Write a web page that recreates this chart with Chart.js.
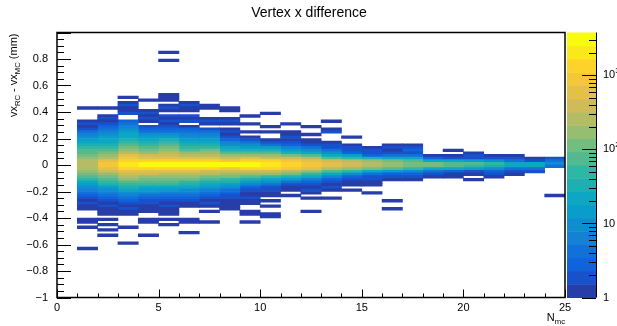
<!DOCTYPE html>
<html>
<head>
<meta charset="utf-8">
<script src="https://cdn.jsdelivr.net/npm/chart.js@4.4.1/dist/chart.umd.min.js"></script>
<style>
  html, body { margin: 0; padding: 0; background: #fff; }
</style>
</head>
<body>
<canvas id="hist" width="617" height="326"></canvas>
<script>
// N_mc bins (low edges, width 1) and y bins of 0.02 mm
const nMc = [1, 2, 3, 4, 5, 6, 7, 8, 9, 10, 11, 12, 13, 14, 15, 16, 17, 18, 19, 20, 21, 22, 23, 24];
const binW = 0.02;
const zMax = 3800;
const xTickValues = [0, 5, 10, 15, 20, 25];
const zDecades = [1, 10, 100, 1000];

// top edge (mm) of the first listed y bin of each column; counts go downwards from there
const colTop = [0.44, 0.44, 0.52, 0.50, 0.86, 0.48, 0.46, 0.44, 0.38, 0.40, 0.32, 0.30,
                0.34, 0.22, 0.14, 0.16, 0.16, 0.08, 0.12, 0.10, 0.08, 0.08, 0.06, 0.06];

const c1 = [1,0,0,0,0, 1,2,1,2,4, 7,10,14,20,30, 45,62,85,115,165, 230,300,310,240,170,
            110,70,42,26,16, 10,6,4,3,2, 1,2,1,1,0, 0,0,1,1,0, 1,0,0,0,0, 0,0,0,1];
const c2 = [1,0,0,1,2, 1,2,3,4,6, 9,13,18,26,38, 55,80,120,190,300, 520,850,900,560,330,
            200,120,75,45,28, 16,10,6,4,3, 2,1,2,1,1, 1,0,1,0,1, 0,1,0,1];
const c3 = [1,0,1,2,1, 1,2,0,0,3, 4,6,9,13,18, 25,40,60,90,130, 200,300,500,800,1300,
            2100,2000,1250,700,400, 230,140,85,50,30, 18,11,7,4,3, 2,1,2,1,1, 0,0,0,0,1,
            0,0,0,0,0, 1];
const c4 = [1,0,0,0,1, 2,1,2,1,0, 2,3,5,9,14, 20,30,45,70,110, 180,330,600,1300,3100,
            3200,1400,650,340,190, 115,70,42,25,15, 9,5,3,2,2, 1,1,1,0,0, 1,1,0,0,0, 0,1];
const c5 = [1,0,0,1, 0,0,0,0,0,0,0,0,0,0,0,0, 1,1,1,0,1, 2,1,0,2,1, 2,1,2,3,4,
            8,16,28,45,70, 110,170,260,420,650, 1400,3600,3700,1500,700, 280,180,120,80,50,
            25,15,7,4,3, 2,1,2,1,1, 1,0,1,0,1];
const c6 = [1,2,1,1,0, 2,1,2,0,1, 3,4,6,10,15, 24,36,55,90,150, 280,550,1200,3400,3500,
            1300,600,300,160,95, 55,32,18,10,6, 4,3,2,1,1, 0,0,0,0,1, 1,0,0,0,1];
const c7 = [1,1,0,0,0, 1,2,1,0,2, 4,6,10,16,25, 38,60,95,160,280, 520,1150,3300,3300,1100,
            480,230,120,65,38, 22,13,7,4,3, 2,1,2,1,0, 1,0,0,0,1];
const c8 = [1,1,0,0,1, 2,1,0,1,2, 1,2,3,6,10, 20,38,75,160,380, 1000,3000,3000,1000,420,
            190,95,50,28,16, 9,5,3,2,2, 1,1,1,1];
const c9 = [1,0,0,1,0, 0,1,0,1,2, 4,8,16,35,80, 200,500,1500,2800,2800, 1400,450,190,75,32,
            14,6,3,2,1, 1,2,1,1,0, 0,1,1,0,0, 1];
const c10 = [1,0,0,0,0, 1,0,1,0,0, 1,2,4,12,30, 70,170,450,1300,2200, 2200,1200,420,160,60,
             25,10,4,2,2, 1,1,0,1,0, 1,0,0,1,1];
const c11 = [1,0,0,1,1, 2,1,2,3,6, 15,40,110,320,900, 1600,1500,850,300,100, 35,12,4,2,1, 1,0,1];
const c12 = [1,0,0,1,0, 1,1,2,4,9, 25,70,220,600,1000, 950,500,180,60,20, 7,3,2,1,2,
             1,0,1,0,0, 0,0,1];
const c13 = [1,0,0,1,2, 0,0,0,1,2, 2,4,8,25,90, 330,620,600,300,90, 22,7,3,2,1, 2,1,0,0,1];
const c14 = [1,0,0,1,2, 2,3,12,60,250, 420,400,200,50,10, 3,2,1,1,0, 1];
const c15 = [1,2,2,3,30, 170,270,260,120,25, 4,2,2,1,1, 0,0,1];
const c16 = [1,2,1,2,4, 20,110,180,170,70, 14,3,2,1,0, 0,0,0,0,0, 0,1,0,0,1];
const c17 = [1,2,3,2,5, 18,80,130,120,50, 10,3,2,1];
const c18 = [1,3,25,100,95,25,4,2,1];
const c19 = [1,0,1,2,20,80,75,18,3,1,1];
const c20 = [1,2,2,15,65,60,12,2,1,0,1];
const c21 = [1,2,10,45,40,10,3,2,1];
const c22 = [1,2,4,25,22,5,2,1];
const c23 = [1,2,20,18,4,2];
const c24 = [2,4,9,5,0, 0,0,0,0,0, 0,0,0,0,1];

const columns = [c1, c2, c3, c4, c5, c6, c7, c8, c9, c10, c11, c12,
                 c13, c14, c15, c16, c17, c18, c19, c20, c21, c22, c23, c24];

// ROOT kBird palette, 20 contour levels on a log z axis
const birdStops = [0, 0.125, 0.25, 0.375, 0.5, 0.625, 0.75, 0.875, 1];
const birdR = [0.2082, 0.0592, 0.0780, 0.0232, 0.1802, 0.5301, 0.8186, 0.9956, 0.9764];
const birdG = [0.1664, 0.3599, 0.5041, 0.6419, 0.7178, 0.7492, 0.7328, 0.7862, 0.9832];
const birdB = [0.5293, 0.8684, 0.8385, 0.7914, 0.6425, 0.4662, 0.3499, 0.1968, 0.0539];
const NLEV = 20;

function levelColor(lvl) {
    const f = Math.floor((lvl + 0.99) * 255 / NLEV) / 254;
    let s = 1;
    while (s < birdStops.length - 1 && f > birdStops[s]) s++;
    const t = (f - birdStops[s - 1]) / (birdStops[s] - birdStops[s - 1]);
    const m = a => Math.round(255 * (a[s - 1] + t * (a[s] - a[s - 1])));
    return `rgb(${m(birdR)},${m(birdG)},${m(birdB)})`;
}

function colorFor(c) {
    const lvl = Math.floor(0.01 + NLEV * Math.log10(c) / Math.log10(zMax));
    return levelColor(Math.max(0, Math.min(NLEV - 1, lvl)));
}

const datasets = columns.map((counts, k) => {
    const pts = [];
    counts.forEach((c, i) => {
        if (!c) return;
        const hi = +(colTop[k] - i * binW).toFixed(4);
        pts.push({ x: nMc[k] + 0.5, y: [+(hi - binW).toFixed(4), hi], c: c });
    });
    return {
        data: pts,
        backgroundColor: pts.map(p => colorFor(p.c)),
        borderWidth: 0,
        grouped: false,
        categoryPercentage: 1,
        barPercentage: 1
    };
});

const FONT = "'Liberation Sans', Arial, Helvetica, sans-serif";

// draws a run of text pieces; sub/sup pieces are smaller and shifted
function drawPieces(ctx, pieces, x, y, size) {
    let cx = x;
    for (const p of pieces) {
        const fs = p.sub || p.sup ? size * 0.7 : size;
        ctx.font = fs + "px " + FONT;
        const dy = p.sub ? size * 0.3 : p.sup ? -size * 0.45 : 0;
        ctx.fillText(p.t, cx, y + dy);
        cx += ctx.measureText(p.t).width;
    }
    return cx - x;
}
function piecesWidth(ctx, pieces, size) {
    let w = 0;
    for (const p of pieces) {
        ctx.font = (p.sub || p.sup ? size * 0.7 : size) + "px " + FONT;
        w += ctx.measureText(p.t).width;
    }
    return w;
}

const rootDecor = {
    id: "rootDecor",
    afterDatasetsDraw(chart) {
        const { ctx, chartArea: a, scales } = chart;
        const xs = scales.x, ys = scales.y, zs = scales.z;
        ctx.save();
        ctx.strokeStyle = "#000";
        ctx.fillStyle = "#000";

        // frame
        ctx.lineWidth = 1.5;
        ctx.strokeRect(a.left, a.top, a.right - a.left, a.bottom - a.top);

        // y ticks, inside, every 0.05
        ctx.lineWidth = 1;
        ctx.beginPath();
        for (let k = -20; k <= 20; k++) {
            const py = Math.round(ys.getPixelForValue(k * 0.05)) + 0.5;
            const len = k % 4 === 0 ? 14 : 7;
            ctx.moveTo(a.left, py);
            ctx.lineTo(a.left + len, py);
        }
        // x ticks, inside, every 1
        for (let k = 0; k <= 25; k++) {
            const px = Math.round(xs.getPixelForValue(k)) + 0.5;
            const len = k % 5 === 0 ? 8 : 4;
            ctx.moveTo(px, a.bottom);
            ctx.lineTo(px, a.bottom - len);
        }
        ctx.stroke();

        // colour palette
        const bx0 = 567, bx1 = 596;
        const lz = Math.log10(zMax);
        for (let i = 0; i < NLEV; i++) {
            const yLo = zs.getPixelForValue(Math.pow(10, i * lz / NLEV));
            const yHi = zs.getPixelForValue(Math.pow(10, (i + 1) * lz / NLEV));
            ctx.fillStyle = levelColor(i);
            ctx.fillRect(bx0, yHi, bx1 - bx0, yLo - yHi + 0.5);
        }
        ctx.fillStyle = "#000";
        ctx.beginPath();
        ctx.moveTo(bx1 + 0.5, a.top);
        ctx.lineTo(bx1 + 0.5, a.bottom);
        for (const d of zDecades) {
            for (let m = 1; m <= 9; m++) {
                const v = d * m;
                if (v > zMax) break;
                const py = Math.round(zs.getPixelForValue(v)) + 0.5;
                ctx.moveTo(bx1, py);
                ctx.lineTo(bx1 - (m === 1 ? 14 : 7), py);
            }
        }
        ctx.stroke();

        ctx.textBaseline = "middle";
        ctx.textAlign = "left";
        zDecades.forEach((d, i) => {
            const py = zs.getPixelForValue(d);
            const pieces = i === 0 ? [{ t: "1" }] : i === 1 ? [{ t: "10" }] : [{ t: "10" }, { t: String(i), sup: true }];
            drawPieces(ctx, pieces, 603, py, 11);
        });

        // title
        ctx.textAlign = "center";
        ctx.textBaseline = "alphabetic";
        ctx.font = "14px " + FONT;
        ctx.fillText("Vertex x difference", 309, 17);

        // y axis title, rotated, aligned to the top end of the axis
        ctx.textAlign = "left";
        const yTitle = [{ t: "vx" }, { t: "RC", sub: true }, { t: " - vx" }, { t: "MC", sub: true }, { t: " (mm)" }];
        ctx.save();
        ctx.translate(17, a.top + 1);
        ctx.rotate(-Math.PI / 2);
        const w = piecesWidth(ctx, yTitle, 11);
        drawPieces(ctx, yTitle, -w, 0, 11);
        ctx.restore();

        // x axis title at the right end
        const xTitle = [{ t: "N" }, { t: "mc", sub: true }];
        const xw = piecesWidth(ctx, xTitle, 11);
        drawPieces(ctx, xTitle, a.right - xw, 321, 11);

        ctx.restore();
    }
};

new Chart(document.getElementById("hist").getContext("2d"), {
    type: "bar",
    data: { datasets: datasets },
    options: {
        responsive: false,
        animation: false,
        devicePixelRatio: 1,
        events: [],
        layout: { padding: { top: 32.5, right: 52, bottom: 0, left: 0 } },
        scales: {
            x: {
                type: "linear",
                min: 0, max: 25,
                offset: false,
                grid: { display: false, drawTicks: false, offset: false },
                border: { display: false },
                afterBuildTicks: s => { s.ticks = xTickValues.map(v => ({ value: v })); },
                afterFit: s => { s.height = 28.5; },
                ticks: {
                    autoSkip: false, maxRotation: 0, padding: 4, color: "#000",
                    font: { family: FONT, size: 11 },
                    callback: v => String(v)
                }
            },
            y: {
                type: "linear",
                min: -1, max: 1,
                grid: { display: false, drawTicks: false },
                border: { display: false },
                afterFit: s => { s.width = 57; },
                ticks: {
                    stepSize: 0.2, autoSkip: false, padding: 9, color: "#000",
                    font: { family: FONT, size: 11 },
                    callback: v => {
                        const r = Math.round(v * 10) / 10;
                        if (r === 1) return "";
                        if (r === 0) return "0";
                        return r < 0 ? "\u2212" + String(-r) : String(r);
                    }
                }
            },
            z: {
                type: "logarithmic",
                position: "right",
                min: 1, max: zMax,
                display: false
            }
        },
        plugins: {
            legend: { display: false },
            tooltip: { enabled: false },
            title: { display: false }
        }
    },
    plugins: [rootDecor]
});
</script>
</body>
</html>
